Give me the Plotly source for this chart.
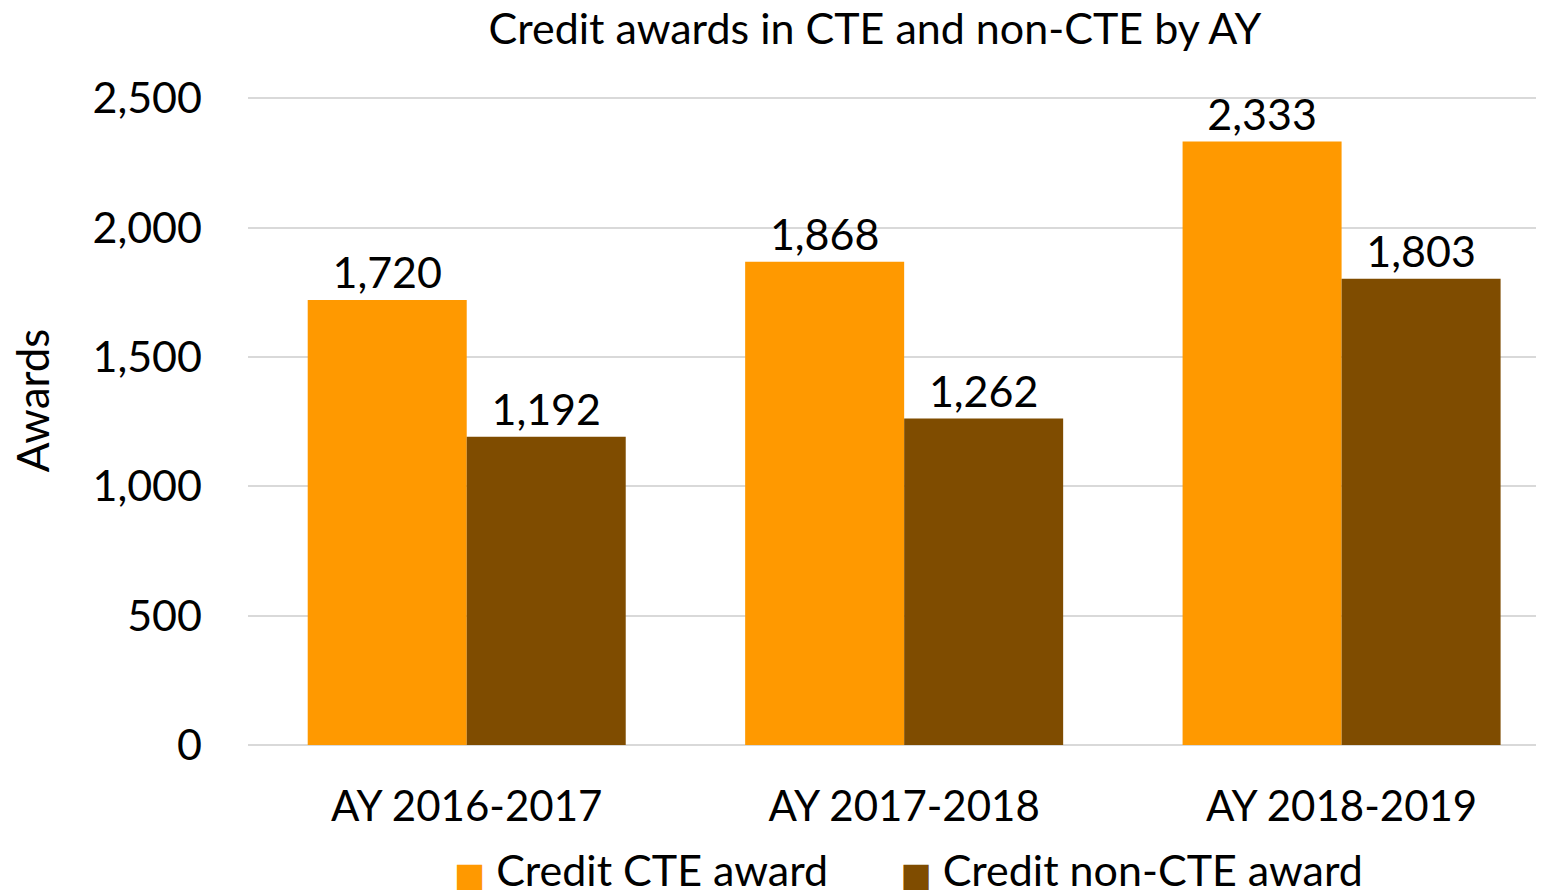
import plotly.graph_objects as go

# data
years = ["AY 2016-2017", "AY 2017-2018", "AY 2018-2019"]
cte = [1720, 1868, 2333]
non_cte = [1192, 1262, 1803]

y_ticks = [0, 500, 1000, 1500, 2000, 2500]
FONT = "Lato"
ORANGE = "#FF9900"
BROWN = "#7F4C00"

fig = go.Figure()
fig.add_trace(go.Bar(
    x=years, y=cte, name="Credit CTE award", showlegend=False,
    marker=dict(color=ORANGE, line=dict(width=0)),
    texttemplate="%{y:,}", textposition="outside",
    textfont=dict(size=43, color="black", family=FONT),
    cliponaxis=False,
))
fig.add_trace(go.Bar(
    x=years, y=non_cte, name="Credit non-CTE award", showlegend=False,
    marker=dict(color=BROWN, line=dict(width=0)),
    texttemplate="%{y:,}", textposition="outside",
    textfont=dict(size=43, color="black", family=FONT),
    cliponaxis=False,
))

# legend entries with big square swatches (plotly caps legend symbol size)
legend_items = [("Credit CTE award" + "\u00a0\u00a0\u2009", ORANGE),
                ("Credit non-CTE award", BROWN)]
for name, col in legend_items:
    fig.add_trace(go.Scatter(
        x=[None], y=[None], mode="markers",
        marker=dict(size=1, color="rgba(0,0,0,0)"),
        name="<span style='color:%s;font-family:DejaVu Sans;font-size:33px'>■</span> %s" % (col, name),
    ))

# y axis title, sits a bit above the plot centre like the original
fig.add_annotation(text="Awards", textangle=-90, xref="paper", yref="paper",
                   x=-0.1656, y=0.525, xanchor="center", yanchor="middle",
                   showarrow=False, font=dict(size=44, family=FONT))

fig.update_layout(
    width=1544, height=896,
    margin=dict(l=240, r=0, t=80, b=159, autoexpand=False),
    paper_bgcolor="white", plot_bgcolor="white",
    font=dict(family=FONT, color="black", size=42),
    barmode="group", bargap=0.273, bargroupgap=0,
    title=dict(text="Credit awards in CTE and non-CTE by AY",
               x=0.5615, xanchor="center", y=0.977, yanchor="middle",
               font=dict(size=43, family=FONT)),
    xaxis=dict(range=[-0.5, 2.481], showgrid=False, showline=False,
               automargin=False, categoryorder="array", categoryarray=years,
               ticks="", ticklabelstandoff=33, tickfont=dict(size=42)),
    yaxis=dict(range=[0, 2540], tickvals=y_ticks, tickformat=",",
               automargin=False,
               showgrid=True, gridcolor="#D9D9D9", gridwidth=2,
               zeroline=True, zerolinecolor="#D9D9D9", zerolinewidth=2,
               ticks="", ticklabelstandoff=45, tickfont=dict(size=43)),
    legend=dict(orientation="h", x=0.1273, xanchor="left", y=-0.136,
                yanchor="top", font=dict(size=43), itemwidth=30,
                traceorder="normal"),
    showlegend=True,
)

fig.write_html("out.html")
